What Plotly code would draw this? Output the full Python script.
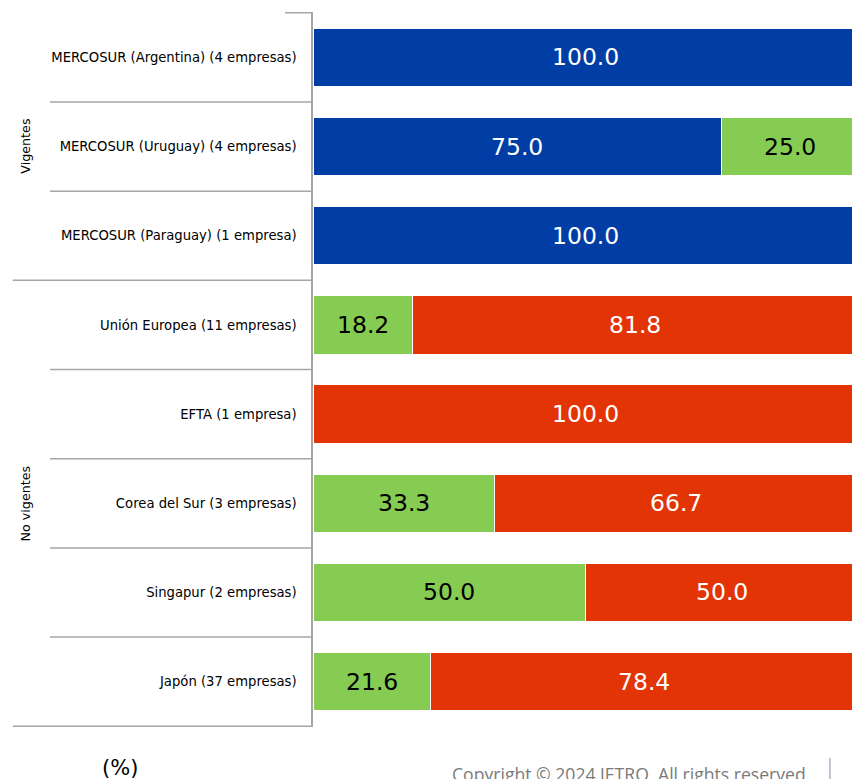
import plotly.graph_objects as go

categories = [
    "MERCOSUR (Argentina) (4 empresas)",
    "MERCOSUR (Uruguay) (4 empresas)",
    "MERCOSUR (Paraguay) (1 empresa)",
    "Unión Europea (11 empresas)",
    "EFTA (1 empresa)",
    "Corea del Sur (3 empresas)",
    "Singapur (2 empresas)",
    "Japón (37 empresas)",
]
blue_vals = [100.0, 75.0, 100.0, 0, 0, 0, 0, 0]
green_vals = [0, 25.0, 0, 18.2, 0, 33.3, 50.0, 21.6]
red_vals = [0, 0, 0, 81.8, 100.0, 66.7, 50.0, 78.4]
groups = [("Vigentes", 0, 3), ("No vigentes", 3, 8)]

BLUE = "#003DA5"
GREEN = "#86CB52"
RED = "#E23404"
FONT = "DejaVu Sans"

fig = go.Figure()
series = [("Azul", blue_vals, BLUE, "white"),
          ("Verde", green_vals, GREEN, "black"),
          ("Rojo", red_vals, RED, "white")]
for name, vals, col, tcol in series:
    fig.add_trace(go.Bar(
        y=categories, x=vals, orientation="h", name=name,
        marker=dict(color=col, line=dict(color="white", width=1.2)),
        width=0.655, showlegend=False, hoverinfo="x+y",
    ))

cum = [0.0] * len(categories)
for name, vals, col, tcol in series:
    for i, v in enumerate(vals):
        if v > 0:
            fig.add_annotation(x=cum[i] + v / 2, y=categories[i], xref="x", yref="y",
                               text=f"{v:.1f}", showarrow=False,
                               font=dict(family=FONT, size=23.5, color=tcol))
        cum[i] += v

line_col = "#A6A6A6"
n = len(categories)
for k in range(1, n):
    outer = any(k == g[1] for g in groups)
    fig.add_shape(type="line", xref="paper", yref="y",
                  x0=-0.557 if outer else -0.488, x1=-0.002,
                  y0=k - 0.5, y1=k - 0.5, line=dict(color=line_col, width=1.5))
fig.add_shape(type="line", xref="paper", yref="y", x0=-0.052, x1=-0.002,
              y0=-0.5, y1=-0.5, line=dict(color=line_col, width=1.5))
fig.add_shape(type="line", xref="paper", yref="y", x0=-0.557, x1=-0.002,
              y0=n - 0.5, y1=n - 0.5, line=dict(color=line_col, width=1.5))

for label, a, b in groups:
    fig.add_annotation(x=-0.534, xref="paper", xanchor="center",
                       y=(a + b - 1) / 2, yref="y", yanchor="middle",
                       text=label, textangle=-90, showarrow=False,
                       font=dict(family=FONT, size=12.7, color="black"))

fig.add_annotation(x=-0.358, xref="paper", xanchor="center",
                   y=-0.0573, yref="paper", yanchor="middle",
                   text="(%)", showarrow=False,
                   font=dict(family=FONT, size=21, color="black"))
fig.add_annotation(x=0.926, xref="paper", xanchor="right",
                   y=-0.066, yref="paper", yanchor="middle",
                   text="Copyright © 2024 JETRO. All rights reserved.", showarrow=False,
                   font=dict(family="Open Sans", size=17.6, color="#7A7A7A"))
fig.add_shape(type="line", xref="paper", yref="paper", x0=0.959, x1=0.959,
              y0=-0.043, y1=-0.075, line=dict(color="#A9B4C6", width=1.5))

fig.update_layout(
    width=852, height=779,
    margin=dict(l=313, r=0, t=12, b=52),
    barmode="stack",
    plot_bgcolor="white", paper_bgcolor="white",
    xaxis=dict(range=[0, 98.9], visible=False, fixedrange=True),
    yaxis=dict(autorange="reversed", showline=True, linecolor=line_col, linewidth=1.5,
               ticks="outside", ticklen=12, tickcolor="rgba(0,0,0,0)",
               tickfont=dict(family=FONT, size=13.2, color="black"),
               showgrid=False, fixedrange=True),
)

fig.write_html(
    "out.html",
    config={"displayModeBar": False},
    post_script="document.body.style.margin='0';"
                "document.body.style.overflow='hidden';"
                "document.documentElement.style.overflow='hidden';",
)
